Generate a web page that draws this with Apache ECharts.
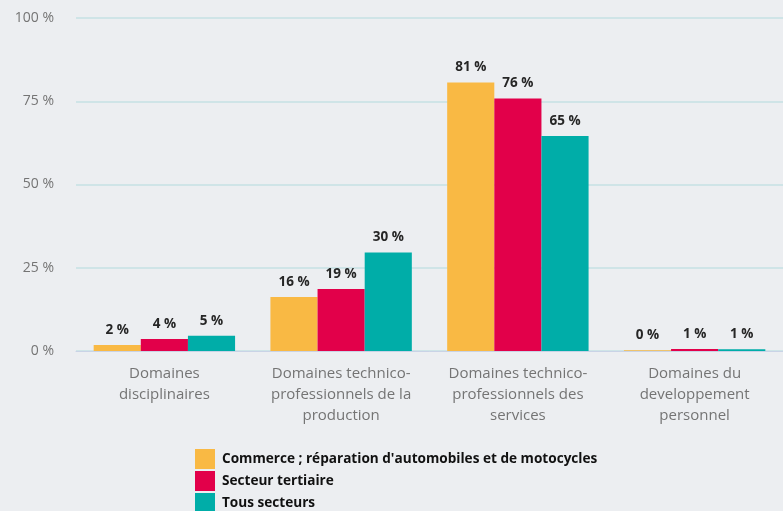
<!DOCTYPE html>
<html>
<head>
<meta charset="utf-8">
<script src="https://cdn.jsdelivr.net/npm/echarts@6/dist/echarts.min.js"></script>
<style>
  html, body { margin: 0; padding: 0; background: #eceef1; }
  #chart { width: 783px; height: 511px; }
</style>
</head>
<body>
<div id="chart"></div>
<script>
// categories (axis labels)
const categories = [
  'Domaines\ndisciplinaires',
  'Domaines technico-\nprofessionnels de la\nproduction',
  'Domaines technico-\nprofessionnels des\nservices',
  'Domaines du\ndeveloppement\npersonnel'
]
const seriesNames = [
  "Commerce ; réparation d'automobiles et de motocycles",
  'Secteur tertiaire',
  'Tous secteurs'
]
// values in %
const commerce = [1.8, 16.2, 80.6, 0.2]
const tertiaire = [3.6, 18.6, 75.8, 0.6]
const tous = [4.6, 29.6, 64.6, 0.5]
const colors = ['#f9b944', '#e2004a', '#00ada8']

const chart = echarts.init(document.getElementById('chart'))

const labelSetting = {
  show: true,
  position: 'top',
  distance: 8,
  fontFamily: 'Open Sans',
  fontWeight: 'bold',
  fontSize: 13.5,
  color: '#262626',
  formatter: (p) => Math.round(p.value) + ' %'
}

function makeSeries(name, data, color) {
  return {
    name: name,
    type: 'bar',
    data: data,
    barGap: '0%',
    barCategoryGap: '20%',
    itemStyle: { color: color },
    label: labelSetting
  }
}

chart.setOption({
  backgroundColor: '#eceef1',
  animation: false,
  grid: { left: 76, right: -13, top: 18, bottom: 160 },
  legend: {
    orient: 'vertical',
    left: 190,
    top: 444,
    height: 100,
    padding: 5,
    itemWidth: 20,
    itemHeight: 20,
    itemGap: 2,
    icon: 'rect',
    textStyle: {
      fontFamily: 'Open Sans',
      fontWeight: 'bold',
      fontSize: 13.6,
      color: '#111',
      padding: [0, 0, 0, 2]
    }
  },
  xAxis: {
    type: 'category',
    data: categories,
    axisLine: { lineStyle: { color: '#c9d3e6', width: 1 } },
    axisTick: { show: false },
    axisLabel: {
      interval: 0,
      fontFamily: 'Open Sans',
      fontSize: 15,
      lineHeight: 21,
      color: '#747474',
      margin: 12
    }
  },
  yAxis: {
    type: 'value',
    min: 0,
    max: 100,
    interval: 25,
    axisLine: { show: false },
    axisTick: { show: false },
    splitLine: { lineStyle: { color: '#cfe4e7', width: 2 } },
    axisLabel: {
      fontFamily: 'Open Sans',
      fontSize: 14,
      color: '#747474',
      margin: 22,
      formatter: '{value} %'
    }
  },
  series: [
    makeSeries(seriesNames[0], commerce, colors[0]),
    makeSeries(seriesNames[1], tertiaire, colors[1]),
    makeSeries(seriesNames[2], tous, colors[2])
  ]
})
</script>
</body>
</html>
